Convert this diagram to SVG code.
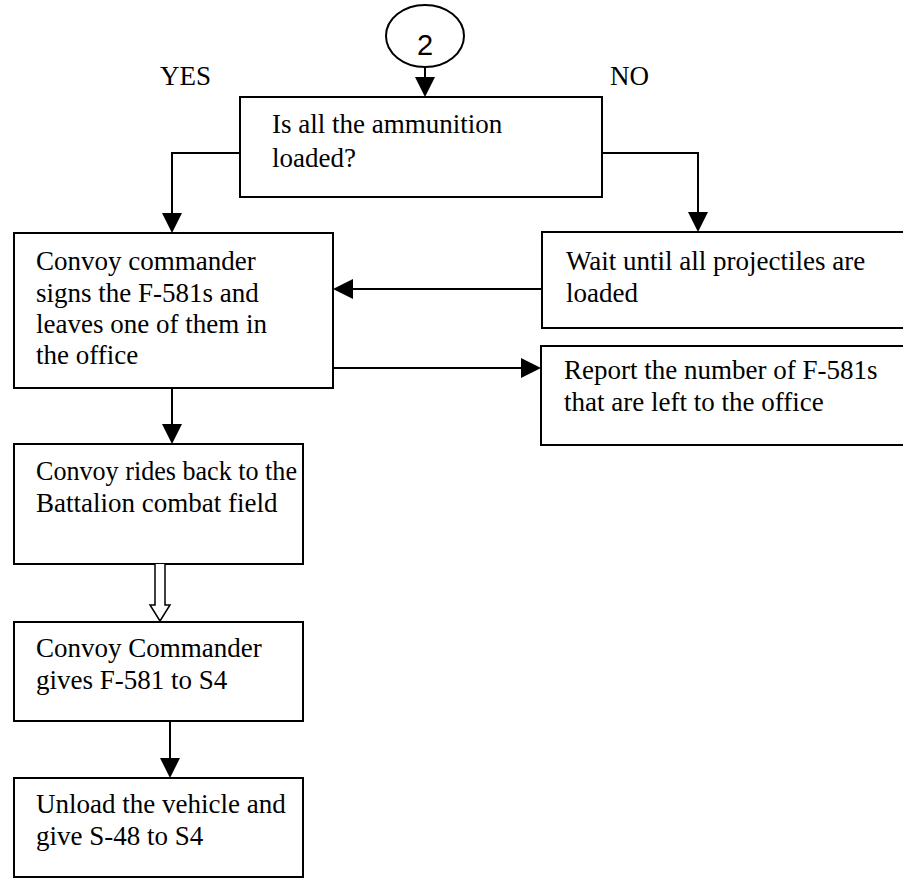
<svg xmlns="http://www.w3.org/2000/svg" width="903" height="880" viewBox="0 0 903 880">
  <style>
    .box { fill: #ffffff; stroke: #000000; stroke-width: 2; }
    .t { font-family: "Liberation Serif", "Times New Roman", serif; font-size: 27px; fill: #000000; }
    .lbl { font-family: "Liberation Serif", "Times New Roman", serif; font-size: 27px; fill: #000000; }
    .num { font-family: "Liberation Sans", Arial, sans-serif; font-size: 29px; fill: #000000; }
    .wire { fill: none; stroke: #000000; stroke-width: 2; }
    .head { fill: #000000; stroke: none; }
  </style>
  <rect width="903" height="880" fill="#ffffff"/>

  <!-- off-page connector that starts this sheet -->
  <g id="connector-2">
    <ellipse cx="425" cy="36" rx="39" ry="31" fill="#ffffff" stroke="#000000" stroke-width="2"/>
    <text class="num" x="425" y="55" text-anchor="middle">2</text>
  </g>

  <text class="lbl" x="160" y="85">YES</text>
  <text class="lbl" x="610" y="85">NO</text>

  <g id="decision">
    <rect class="box" x="240" y="97" width="362" height="100"/>
    <text class="t" x="272" y="133">Is all the ammunition</text>
    <text class="t" x="272" y="167">loaded?</text>
  </g>

  <g id="sign">
    <rect class="box" x="14" y="233" width="319" height="155"/>
    <text class="t" x="36" y="270">Convoy commander</text>
    <text class="t" x="36" y="302">signs the F-581s and</text>
    <text class="t" x="36" y="333">leaves one of them in</text>
    <text class="t" x="36" y="364">the office</text>
  </g>

  <g id="wait">
    <rect class="box" x="542" y="232" width="370" height="96"/>
    <text class="t" x="566" y="270">Wait until all projectiles are</text>
    <text class="t" x="566" y="302">loaded</text>
  </g>

  <g id="report">
    <rect class="box" x="541" y="346" width="370" height="99"/>
    <text class="t" x="564" y="379">Report the number of F-581s</text>
    <text class="t" x="564" y="411">that are left to the office</text>
  </g>

  <g id="ride">
    <rect class="box" x="14" y="444" width="289" height="120"/>
    <text class="t" x="36" y="480" textLength="261" lengthAdjust="spacingAndGlyphs">Convoy rides back to the</text>
    <text class="t" x="36" y="512">Battalion combat field</text>
  </g>

  <g id="give">
    <rect class="box" x="14" y="622" width="289" height="99"/>
    <text class="t" x="36" y="657">Convoy Commander</text>
    <text class="t" x="36" y="689">gives F-581 to S4</text>
  </g>

  <g id="unload">
    <rect class="box" x="14" y="778" width="289" height="99"/>
    <text class="t" x="36" y="813">Unload the vehicle and</text>
    <text class="t" x="36" y="845">give S-48 to S4</text>
  </g>

  <g id="connectors">
    <!-- start to decision -->
    <path class="wire" d="M425 67 V80"/>
    <polygon class="head" points="415,77 435,77 425,97"/>
    <!-- yes branch -->
    <path class="wire" d="M240 153 H172 V216"/>
    <polygon class="head" points="162,213 182,213 172,233"/>
    <!-- no branch -->
    <path class="wire" d="M602 153 H698 V215"/>
    <polygon class="head" points="688,212 708,212 698,232"/>
    <!-- wait back to sign -->
    <path class="wire" d="M542 289 H350"/>
    <polygon class="head" points="353,279 353,299 333,289"/>
    <!-- sign to report -->
    <path class="wire" d="M333 368 H524"/>
    <polygon class="head" points="521,358 521,378 541,368"/>
    <!-- sign to ride -->
    <path class="wire" d="M172 388 V427"/>
    <polygon class="head" points="162,424 182,424 172,444"/>
    <!-- ride to give (hollow arrow) -->
    <path fill="#ffffff" stroke="#000000" stroke-width="1.5" d="M155 564 V605 H150 L160 621 L170 605 H165 V564"/>
    <!-- give to unload -->
    <path class="wire" d="M170 721 V761"/>
    <polygon class="head" points="160,758 180,758 170,778"/>
  </g>
</svg>
